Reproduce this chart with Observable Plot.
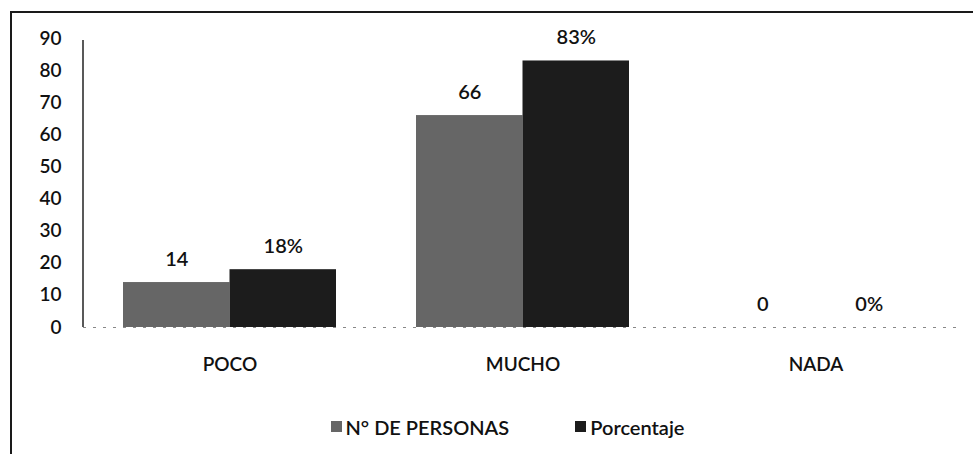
<!DOCTYPE html>
<html>
<head>
<meta charset="utf-8">
<script src="https://cdn.jsdelivr.net/npm/d3@7"></script>
<script src="https://cdn.jsdelivr.net/npm/@observablehq/plot@0.6"></script>
<style>
  html, body { margin: 0; padding: 0; background: #fff; }
  body { width: 973px; height: 454px; position: relative; overflow: hidden; font-family: Lato, "Open Sans", sans-serif; }
  #frame { position: absolute; left: 10px; top: 11px; width: 980px; height: 460px; border-top: 2px solid #1a1a1a; border-left: 2px solid #1a1a1a; }
  #chart { position: absolute; left: 0; top: 0; }
  #legend { position: absolute; left: 0; width: 931px; padding-left: 42px; top: 412px; text-align: center; font-size: 20px; font-weight: 600; color: #111; }
  #legend span.item { display: inline-flex; align-items: center; margin: 0 33px; }
  #legend span.sw { display: inline-block; width: 11px; height: 11px; margin-right: 4px; }
</style>
</head>
<body>
<div id="frame"></div>
<div id="chart"></div>
<div id="legend"></div>
<script>
const categories = ["POCO", "MUCHO", "NADA"];
const personas = [14, 66, 0];
const porcentaje = [18, 83, 0];
const seriesNames = ["N° DE PERSONAS", "Porcentaje"];
const seriesColors = ["#666666", "#1c1c1c"];
const yTicks = [0, 10, 20, 30, 40, 50, 60, 70, 80, 90];

const rows = categories.map((c, i) => ({category: c, personas: personas[i], porcentaje: porcentaje[i]}));

const bw = 213; // band width (px) used for half-band insets
const chart = Plot.plot({
  width: 973,
  height: 390,
  marginLeft: 83,
  marginRight: 11,
  marginTop: 38,
  marginBottom: 63,
  style: {fontFamily: "Lato, 'Open Sans', sans-serif", fontSize: "19px", fontWeight: 600, color: "#111", background: "transparent"},
  x: {domain: categories, paddingInner: 0.273, paddingOuter: 0.1365, label: null},
  y: {domain: [0, 90], label: null},
  marks: [
    Plot.ruleY([0], {stroke: "#888", strokeDasharray: "3,7", strokeWidth: 1}),
    Plot.barY(rows, {x: "category", y: "personas", fill: seriesColors[0], insetRight: bw / 2}),
    Plot.barY(rows, {x: "category", y: "porcentaje", fill: seriesColors[1], insetLeft: bw / 2}),
    Plot.text(rows, {x: "category", y: "personas", text: d => String(d.personas), dx: -bw / 4, dy: -23, fontSize: 20, fill: "#111"}),
    Plot.text(rows, {x: "category", y: "porcentaje", text: d => d.porcentaje + "%", dx: bw / 4, dy: -23, fontSize: 20, fill: "#111"}),
    Plot.axisY({ticks: yTicks, tickSize: 0, tickPadding: 22, label: null, fontSize: 19}),
    Plot.axisX({tickSize: 0, tickPadding: 30, label: null, fontSize: 19})
  ]
});

// y axis line at left edge of the plot
const svg = d3.select(chart);
svg.append("line")
  .attr("x1", 83).attr("x2", 83)
  .attr("y1", 40).attr("y2", 327)
  .attr("stroke", "#222").attr("stroke-width", 1.5);

document.getElementById("chart").appendChild(chart);

const legend = document.getElementById("legend");
seriesNames.forEach((name, i) => {
  const item = document.createElement("span");
  item.className = "item";
  const sw = document.createElement("span");
  sw.className = "sw";
  sw.style.background = seriesColors[i];
  item.appendChild(sw);
  item.appendChild(document.createTextNode(name));
  legend.appendChild(item);
});
</script>
</body>
</html>
